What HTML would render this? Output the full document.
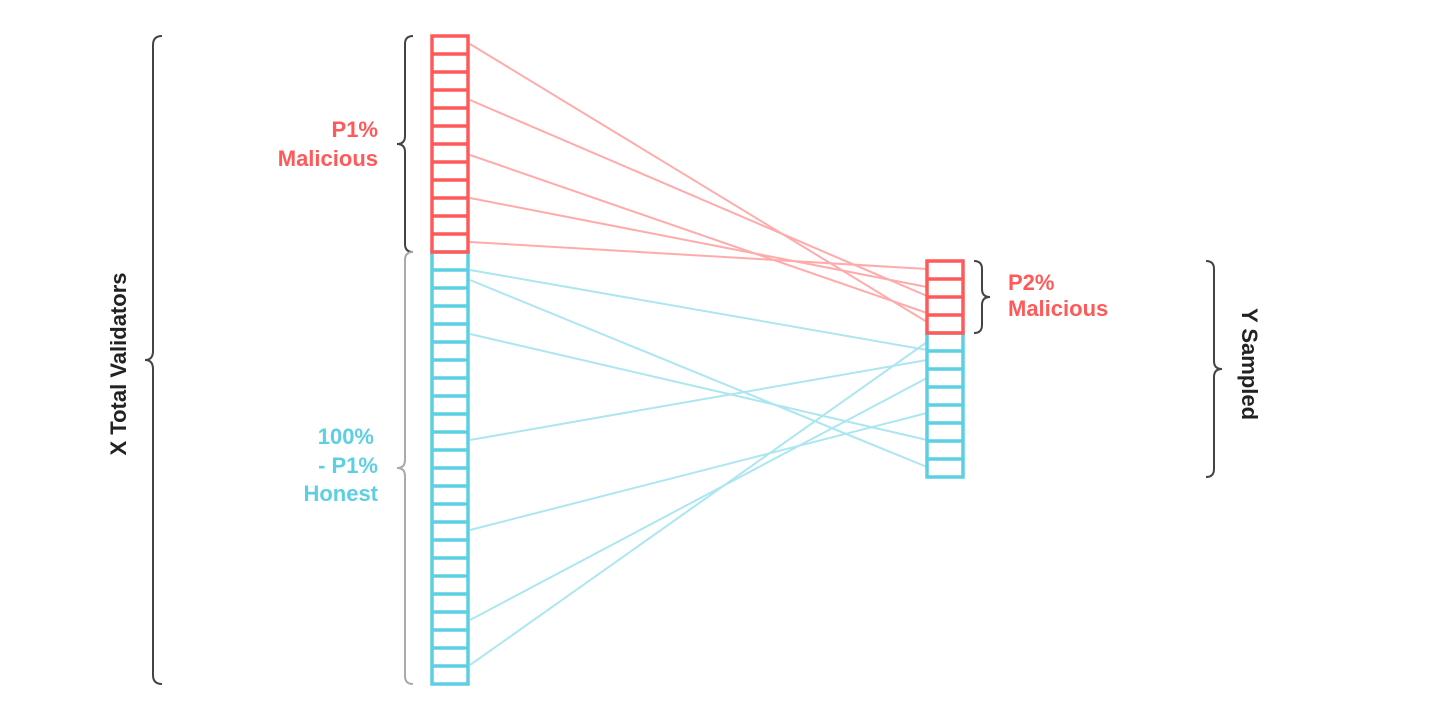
<!DOCTYPE html>
<html><head><style>body{margin:0;background:#fff}svg{display:block}</style></head><body>
<svg width="1440" height="720" xmlns="http://www.w3.org/2000/svg" font-family="Liberation Sans, sans-serif" font-weight="bold">
<g stroke-width="2" fill="none" opacity="0.5">
<g stroke="#ff5a5a">
<line x1="470" y1="44" x2="927" y2="322"/>
<line x1="470" y1="100" x2="927" y2="296"/>
<line x1="470" y1="155" x2="927" y2="313"/>
<line x1="470" y1="198" x2="927" y2="287"/>
<line x1="470" y1="242" x2="927" y2="269"/>
</g>
<g stroke="#5ccfe3">
<line x1="470" y1="270" x2="927" y2="350"/>
<line x1="470" y1="280" x2="927" y2="467"/>
<line x1="470" y1="334" x2="927" y2="440"/>
<line x1="470" y1="440" x2="927" y2="360"/>
<line x1="470" y1="530" x2="927" y2="413"/>
<line x1="470" y1="620" x2="927" y2="378"/>
<line x1="470" y1="665" x2="927" y2="342"/>
</g>
</g>
<g fill="none" stroke-width="3.5">
<rect x="432" y="252" width="36" height="432" stroke="#5ccfe3"/>
<path stroke="#5ccfe3" d="M432 270h36M432 288h36M432 306h36M432 324h36M432 342h36M432 360h36M432 378h36M432 396h36M432 414h36M432 432h36M432 450h36M432 468h36M432 486h36M432 504h36M432 522h36M432 540h36M432 558h36M432 576h36M432 594h36M432 612h36M432 630h36M432 648h36M432 666h36"/>
<rect x="432" y="36" width="36" height="216" stroke="#ff5a5a"/>
<path stroke="#ff5a5a" d="M432 54h36M432 72h36M432 90h36M432 108h36M432 126h36M432 144h36M432 162h36M432 180h36M432 198h36M432 216h36M432 234h36"/>
<rect x="927" y="333" width="36" height="144" stroke="#5ccfe3"/>
<path stroke="#5ccfe3" d="M927 351h36M927 369h36M927 387h36M927 405h36M927 423h36M927 441h36M927 459h36"/>
<rect x="927" y="261" width="36" height="72" stroke="#ff5a5a"/>
<path stroke="#ff5a5a" d="M927 279h36M927 297h36M927 315h36"/>
</g>
<g fill="none" stroke-width="2">
<path stroke="#444" d="M162 36q-9 0-9 9v306q0 9-8 9q8 0 8 9v306q0 9 9 9"/>
<path stroke="#444" d="M413 36q-8 0-8 8v92q0 8-8 8q8 0 8 8v92q0 8 8 8"/>
<path stroke="#aaa" d="M413 252q-8 0-8 8v200q0 8-8 8q8 0 8 8v200q0 8 8 8"/>
<path stroke="#444" d="M974 261q8 0 8 8v20q0 8 8 8q-8 0-8 8v20q0 8-8 8"/>
<path stroke="#444" d="M1206 261q8 0 8 8v92q0 8 8 8q-8 0-8 8v92q0 8-8 8"/>
</g>
<g font-size="22" text-anchor="end" fill="#ff5a5a">
<text x="378" y="137">P1%</text>
<text x="378" y="166">Malicious</text>
</g>
<g font-size="22" text-anchor="end" fill="#5ccfe3">
<text x="374" y="444">100%</text>
<text x="378" y="473">- P1%</text>
<text x="378" y="501">Honest</text>
</g>
<g font-size="22" fill="#ff5a5a">
<text x="1008" y="290">P2%</text>
<text x="1008" y="316">Malicious</text>
</g>
<text font-size="22" fill="#222" text-anchor="middle" transform="translate(126 364) rotate(-90)">X Total Validators</text>
<text font-size="22" fill="#222" text-anchor="middle" transform="translate(1242 364) rotate(90)">Y Sampled</text>
</svg>
</body></html>
